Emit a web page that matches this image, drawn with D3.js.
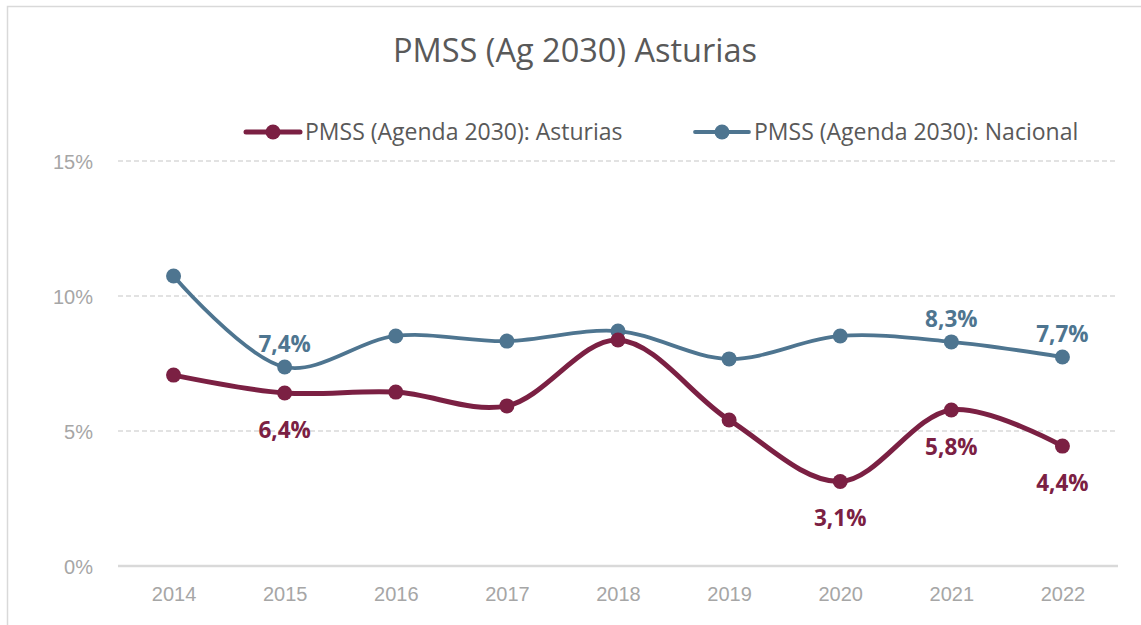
<!DOCTYPE html>
<html>
<head>
<meta charset="utf-8">
<script src="https://cdn.jsdelivr.net/npm/d3@7"></script>
<style>
  body { margin: 0; background: #fff; }
  svg { display: block; font-family: "Open Sans", "Noto Sans", sans-serif; }
</style>
</head>
<body>
<svg></svg>
<script>
const years = ["2014", "2015", "2016", "2017", "2018", "2019", "2020", "2021", "2022"]
const asturias = [7.07, 6.41, 6.44, 5.93, 8.37, 5.41, 3.13, 5.78, 4.44]
const nacional = [10.74, 7.37, 8.52, 8.33, 8.70, 7.67, 8.52, 8.30, 7.74]
const yTicks = [0, 5, 10, 15]
// which points carry a data label
const asturiasLabels = ["2015", "2020", "2021", "2022"]
const nacionalLabels = ["2015", "2021", "2022"]

const width = 1141
const height = 625
const margin = { top: 161, right: 23, bottom: 59, left: 118 }

const svg = d3.select("svg")
  .attr("width", width)
  .attr("height", height)

// chart frame
svg.append("rect")
  .attr("x", 7.5).attr("y", 6.5)
  .attr("width", width).attr("height", height)
  .attr("fill", "none")
  .attr("stroke", "#d9d9d9")
  .attr("stroke-width", 1.5)

svg.append("text")
  .attr("x", 575).attr("y", 62)
  .attr("text-anchor", "middle")
  .attr("fill", "#595959")
  .style("font-size", "32.5px")
  .text("PMSS (Ag 2030) Asturias")

const x = d3.scalePoint()
  .domain(years)
  .range([margin.left, width - margin.right])
  .padding(0.5)

const y = d3.scaleLinear()
  .domain([0, 15])
  .range([height - margin.bottom, margin.top])

// gridlines
svg.append("g")
  .selectAll("line")
  .data(yTicks)
  .join("line")
  .attr("x1", margin.left).attr("x2", width - margin.right)
  .attr("y1", d => y(d)).attr("y2", d => y(d))
  .attr("stroke", "#d9d9d9")
  .attr("stroke-width", d => d == 0 ? 2.5 : 1.3)
  .attr("stroke-dasharray", d => d == 0 ? null : "5,3")

const yAxis = svg.append("g")
  .attr("transform", "translate(" + (margin.left - 22) + ",0)")
  .call(d3.axisLeft(y).tickValues(yTicks).tickSize(0).tickFormat(d => d + "%"))
yAxis.select(".domain").remove()
yAxis.selectAll("text")
  .attr("fill", "#a6a6a6")
  .attr("dy", "0.35em")
  .style("font-size", "20px")

const xAxis = svg.append("g")
  .attr("transform", "translate(0," + (height - margin.bottom) + ")")
  .call(d3.axisBottom(x).tickSize(0).tickPadding(21))
xAxis.select(".domain").remove()
xAxis.selectAll("text")
  .attr("fill", "#a6a6a6")
  .style("font-size", "20px")

const series = [
  { name: "PMSS (Agenda 2030): Asturias", values: asturias, color: "#7b2043", width: 5, labels: asturiasLabels, dy: 45 },
  { name: "PMSS (Agenda 2030): Nacional", values: nacional, color: "#4e7590", width: 3.8, labels: nacionalLabels, dy: -15 }
]

const line = d3.line()
  .x((d, i) => x(years[i]))
  .y(d => y(d))
  .curve(d3.curveCatmullRom.alpha(0.5))

series.slice().reverse().forEach(function (s) {
  const g = svg.append("g")
  g.append("path")
    .attr("d", line(s.values))
    .attr("fill", "none")
    .attr("stroke", s.color)
    .attr("stroke-width", s.width)
    .attr("stroke-linecap", "round")
  g.selectAll("circle")
    .data(s.values)
    .join("circle")
    .attr("cx", (d, i) => x(years[i]))
    .attr("cy", d => y(d))
    .attr("r", 7.5)
    .attr("fill", s.color)
  g.selectAll("text")
    .data(s.values.map((v, i) => ({ v: v, year: years[i] })).filter(d => s.labels.includes(d.year)))
    .join("text")
    .attr("x", d => x(d.year))
    .attr("y", d => y(d.v) + s.dy)
    .attr("text-anchor", "middle")
    .attr("fill", s.color)
    .style("font-size", "22.5px")
    .style("font-weight", "bold")
    .text(d => d.v.toFixed(1).replace(".", ",") + "%")
})

// legend
const legendPos = [246, 695]
const legend = svg.append("g")
series.forEach(function (s, i) {
  const item = legend.append("g")
    .attr("transform", "translate(" + legendPos[i] + ",132)")
  item.append("line")
    .attr("x1", 0).attr("x2", 54)
    .attr("stroke", s.color)
    .attr("stroke-width", s.width)
    .attr("stroke-linecap", "round")
  item.append("circle")
    .attr("cx", 27).attr("r", 7.5)
    .attr("fill", s.color)
  item.append("text")
    .attr("x", 59).attr("dy", "0.35em")
    .attr("fill", "#595959")
    .style("font-size", "23px")
    .text(s.name)
})
</script>
</body>
</html>
